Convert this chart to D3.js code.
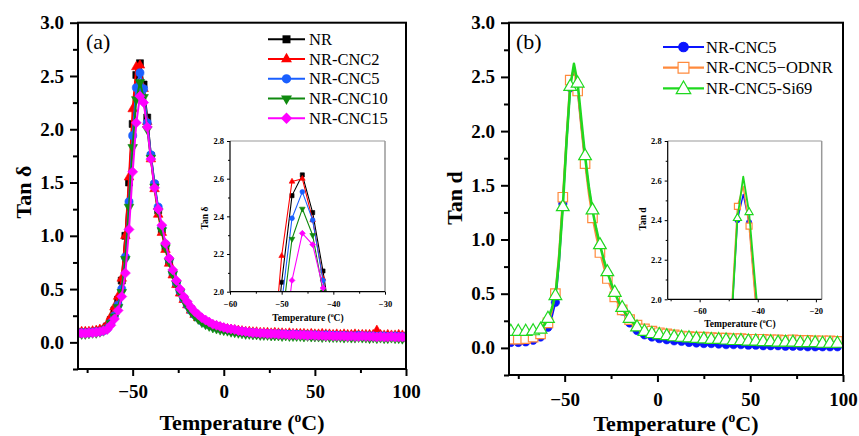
<!DOCTYPE html>
<html><head><meta charset="utf-8">
<script src="https://cdn.jsdelivr.net/npm/d3@7"></script>
<style>
body{margin:0;background:#fff}
svg{display:block}
text{font-family:"Liberation Serif","Times New Roman",serif}
</style>
</head><body>
<svg id="c" width="859" height="436"></svg>
<script>
// ---------- Panel (a) data ----------
const tempA = [-80,-78,-76,-74,-72,-70,-68,-66,-64,-62,-60,-58,-56,-54,-52,-50,-48,-46,-44,-42,-40,-38,-36,-34,-32,-30,-28,-26,-24,-22,-20,-18,-16,-14,-12,-10,-8,-6,-4,-2,0,2,4,6,8,10,12,14,16,18,20,22,24,26,28,30,32,34,36,38,40,42,44,46,48,50,52,54,56,58,60,62,64,66,68,70,72,74,76,78,80,82,84,86,88,90,92,94,96,98,100];
const nrA = [0.09,0.09,0.09,0.095,0.10,0.10,0.11,0.12,0.15,0.21,0.30,0.40,0.58,1.00,1.50,2.05,2.51,2.62,2.42,2.11,1.75,1.48,1.24,1.06,0.90,0.76,0.65,0.55,0.47,0.41,0.36,0.31,0.27,0.24,0.21,0.19,0.17,0.16,0.15,0.14,0.13,0.12,0.115,0.11,0.105,0.10,0.095,0.09,0.09,0.085,0.085,
 0.08,0.08,0.08,0.08,0.075,0.08,0.075,0.075,0.075,0.07,
 0.07,0.07,0.07,0.065,0.07,0.07,0.065,0.065,0.07,0.065,
 0.065,0.06,0.065,0.06,0.06,0.065,0.06,0.06,0.06,0.06,
 0.06,0.055,0.06,0.055,0.055,0.06,0.055,0.055,0.05,0.055];
const cnc2A = [0.10,0.10,0.10,0.10,0.105,0.11,0.12,0.13,0.17,0.24,0.33,0.43,0.60,1.00,1.55,2.19,2.585,2.60,2.38,2.07,1.72,1.44,1.20,1.03,0.87,0.74,0.63,0.54,0.46,0.40,0.35,0.30,0.26,0.23,0.21,0.19,0.17,0.16,0.15,0.14,0.13,
 0.125,0.12,0.115,0.11,0.105,0.10,0.10,0.095,0.095,0.09,
 0.09,0.09,0.085,0.09,0.085,0.085,0.08,0.085,0.08,0.08,
 0.08,0.08,0.075,0.08,0.075,0.075,0.08,0.075,0.075,0.07,
 0.075,0.07,0.075,0.07,0.07,0.075,0.07,0.07,0.07,0.07,
 0.07,0.11,0.07,0.065,0.07,0.065,0.065,0.07,0.065,0.065];
const cnc5A = [0.09,0.09,0.09,0.09,0.095,0.10,0.10,0.11,0.13,0.18,0.25,0.35,0.50,0.80,1.32,1.94,2.39,2.53,2.38,2.06,1.76,1.49,1.27,1.08,0.92,0.78,0.66,0.56,0.48,0.41,0.35,0.30,0.26,0.23,0.20,0.18,0.165,0.15,0.14,0.13,0.125,
 0.12,0.11,0.105,0.10,0.10,0.095,0.09,0.09,0.085,0.085,
 0.08,0.08,0.08,0.075,0.08,0.075,0.075,0.075,0.07,0.075,
 0.07,0.07,0.07,0.065,0.07,0.065,0.065,0.07,0.065,0.065,
 0.065,0.06,0.065,0.06,0.06,0.06,0.065,0.06,0.06,0.06,
 0.06,0.055,0.06,0.06,0.055,0.055,0.06,0.055,0.055,0.05];
const cnc10A = [0.08,0.08,0.08,0.085,0.09,0.09,0.10,0.11,0.13,0.18,0.24,0.33,0.47,0.78,1.27,1.83,2.28,2.44,2.30,2.00,1.73,1.46,1.23,1.05,0.89,0.76,0.64,0.55,0.47,0.40,0.34,0.29,0.25,0.22,0.19,0.17,0.155,0.14,0.13,0.12,0.115,
 0.11,0.10,0.095,0.09,0.085,0.08,0.08,0.075,0.075,0.07,
 0.07,0.07,0.065,0.065,0.065,0.06,0.065,0.06,0.06,0.06,
 0.06,0.055,0.06,0.055,0.055,0.055,0.05,0.055,0.05,0.05,
 0.05,0.05,0.045,0.05,0.045,0.045,0.05,0.045,0.045,0.04,
 0.045,0.04,0.045,0.04,0.04,0.045,0.04,0.04,0.035,0.04];
const cnc15A = [0.085,0.085,0.085,0.09,0.09,0.095,0.10,0.11,0.12,0.16,0.22,0.30,0.43,0.65,1.06,1.60,2.06,2.31,2.25,2.02,1.72,1.45,1.25,1.10,0.93,0.79,0.68,0.58,0.50,0.43,0.38,0.33,0.29,0.26,0.23,0.21,0.19,0.17,0.16,0.15,0.14,
 0.13,0.125,0.12,0.11,0.105,0.10,0.095,0.09,0.09,0.085,
 0.085,0.08,0.08,0.08,0.075,0.075,0.075,0.07,0.075,0.07,
 0.07,0.07,0.065,0.07,0.065,0.065,0.065,0.06,0.065,0.06,
 0.06,0.06,0.06,0.055,0.06,0.055,0.055,0.06,0.055,0.055,
 0.055,0.05,0.055,0.05,0.05,0.055,0.05,0.05,0.05,0.045];
const namesA = ["NR","NR-CNC2","NR-CNC5","NR-CNC10","NR-CNC15"];

// ---------- Panel (b) data ----------
const tempB = [-79,-77,-75,-73,-71,-69,-67,-65,-63,-61,-59,-57,-55,-53,-51,-49,-47,-45,-43,-41,-39,-37,-35,-33,-31,-29,-27,-25,-23,-21,-19,-17,-15,-13,-11,-9,-7,-5,-3,-1,1,3,5,7,9,11,13,15,17,19,21,23,25,27,29,31,33,35,37,39,41,43,45,47,49,51,53,55,57,59,61,63,65,67,69,71,73,75,77,79,81,83,85,87,89,91,93,95,97,99];
const cnc5B = [0.05,0.05,0.05,0.05,0.055,0.06,0.07,0.08,0.10,0.14,0.19,0.28,0.42,0.80,1.33,1.90,2.40,2.53,2.39,2.05,1.74,1.47,1.26,1.08,0.94,0.81,0.69,0.58,0.49,0.41,0.34,0.28,0.23,0.19,0.16,0.14,0.12,0.11,0.10,0.09,0.085,
 0.08,0.075,0.07,0.065,0.06,0.06,0.055,0.05,0.05,0.045,
 0.045,0.04,0.04,0.04,0.035,0.035,0.035,0.03,0.03,0.03,
 0.03,0.03,0.025,0.025,0.025,0.025,0.02,0.02,0.02,0.02,
 0.02,0.02,0.02,0.015,0.015,0.015,0.015,0.015,0.015,0.01,
 0.01,0.01,-0.01,0.01,0.01,0.01,0.01,0.01,0.01];
const odnrB = [0.08,0.08,0.08,0.08,0.085,0.09,0.10,0.11,0.13,0.17,0.23,0.33,0.50,0.88,1.39,1.95,2.47,2.57,2.37,2.02,1.70,1.42,1.20,1.03,0.88,0.75,0.64,0.55,0.47,0.40,0.35,0.30,0.26,0.23,0.21,0.19,0.175,0.165,0.155,0.15,0.14,
 0.135,0.13,0.125,0.12,0.115,0.11,0.11,0.105,0.105,0.10,
 0.10,0.10,0.095,0.095,0.095,0.09,0.09,0.09,0.09,0.085,
 0.085,0.085,0.085,0.08,0.08,0.08,0.08,0.08,0.075,0.075,
 0.075,0.075,0.075,0.07,0.07,0.075,0.07,0.07,0.07,0.07,
 0.07,0.065,0.07,0.065,0.065,0.065,0.065,0.06,0.065];
const si69B = [0.15,0.15,0.15,0.15,0.15,0.15,0.155,0.16,0.17,0.21,0.27,0.36,0.48,0.82,1.30,1.90,2.41,2.62,2.44,2.10,1.77,1.49,1.27,1.10,0.95,0.82,0.70,0.60,0.51,0.43,0.37,0.31,0.27,0.23,0.19,0.17,0.15,0.14,0.13,0.125,0.12,
 0.115,0.11,0.105,0.10,0.10,0.095,0.09,0.09,0.085,0.085,
 0.08,0.08,0.08,0.075,0.075,0.075,0.07,0.07,0.07,0.065,
 0.065,0.065,0.06,0.06,0.06,0.06,0.055,0.055,0.055,0.055,
 0.055,0.05,0.05,0.05,0.05,0.05,0.045,0.045,0.045,0.045,
 0.045,0.045,0.04,0.04,0.04,0.04,0.04,0.04,0.04];
const namesB = ["NR-CNC5","NR-CNC5\u2212ODNR","NR-CNC5-Si69"];

// tick values
const xMajor = [-50,0,50,100], xMinor = [-75,-25,25,75];
const yMajor = [0,0.5,1,1.5,2,2.5,3], yMinor = [-0.25,0.25,0.75,1.25,1.75,2.25,2.75];
const inYMajor = [2.0,2.2,2.4,2.6,2.8], inYMinor = [2.1,2.3,2.5,2.7];
const inXMajorA = [-60,-50,-40,-30], inXMinorA = [-55,-45,-35];
const inXMajorB = [-60,-40,-20], inXMinorB = [-70,-50,-30];

const svg = d3.select("#c");
const fmtX = d3.format("d"), fmtY = d3.format(".1f");

function symPath(shape, size){
  const t = {square:d3.symbolSquare, triangle:d3.symbolTriangle, triangleDown:d3.symbolTriangle,
             circle:d3.symbolCircle, diamond:d3.symbolSquare}[shape];
  return d3.symbol().type(t).size(size)();
}
function symRot(shape){ return shape==="triangleDown" ? 180 : (shape==="diamond" ? 45 : 0); }

function drawMainAxes(g, x, y, L, R, T, B, xPad){
  g.append("rect").attr("x",L).attr("y",T).attr("width",R-L).attr("height",B-T)
    .attr("fill","none").attr("stroke","#000").attr("stroke-width",2);
  g.append("g").attr("transform",`translate(0,${B})`)
    .call(d3.axisBottom(x).tickValues(xMajor).tickFormat(fmtX).tickSize(7).tickPadding(xPad).tickSizeOuter(0));
  g.append("g").attr("transform",`translate(0,${B})`)
    .call(d3.axisBottom(x).tickValues(xMinor).tickFormat("").tickSize(4).tickSizeOuter(0));
  g.append("g").attr("transform",`translate(${L},0)`)
    .call(d3.axisLeft(y).tickValues(yMajor).tickFormat(fmtY).tickSize(8).tickPadding(6).tickSizeOuter(0));
  g.append("g").attr("transform",`translate(${L},0)`)
    .call(d3.axisLeft(y).tickValues(yMinor).tickFormat("").tickSize(5).tickSizeOuter(0));
  g.selectAll(".domain").remove();
  g.selectAll(".tick line").attr("stroke","#000").attr("stroke-width",2);
  g.selectAll(".tick text").attr("font-family","Liberation Serif, serif").attr("font-size",19)
    .attr("font-weight","bold").attr("fill","#000");
}

function drawSeries(g, x, y, temps, vals, color, shape, size, lw, open, every, offset){
  const pts = temps.map((t,i)=>[t, vals[i]]);
  g.append("path").datum(pts)
    .attr("d", d3.line().x(d=>x(d[0])).y(d=>y(d[1])))
    .attr("fill","none").attr("stroke",color).attr("stroke-width",lw).attr("stroke-linejoin","round");
  const mp = pts.filter((d,i)=> (i - offset) % every === 0);
  g.selectAll(null).data(mp).enter().append("path")
    .attr("d", symPath(shape,size))
    .attr("transform", d=>`translate(${x(d[0])},${y(d[1])}) rotate(${symRot(shape)})`)
    .attr("fill", open ? "#fff" : color)
    .attr("stroke", color).attr("stroke-width", open ? 1.2 : 0.6);
}

function drawInsetAxes(g, x, y, L, R, T, B, xMaj, xMin){
  g.append("line").attr("x1",L).attr("x2",R).attr("y1",T).attr("y2",T).attr("stroke","#999").attr("stroke-width",1.2);
  g.append("line").attr("x1",R).attr("x2",R).attr("y1",T).attr("y2",B).attr("stroke","#999").attr("stroke-width",1.5);
  g.append("g").attr("transform",`translate(0,${B})`)
    .call(d3.axisBottom(x).tickValues(xMaj).tickFormat(fmtX).tickSize(3).tickPadding(6).tickSizeOuter(0));
  g.append("g").attr("transform",`translate(0,${B})`)
    .call(d3.axisBottom(x).tickValues(xMin).tickFormat("").tickSize(2).tickSizeOuter(0));
  g.append("g").attr("transform",`translate(${L},0)`)
    .call(d3.axisLeft(y).tickValues(inYMajor).tickFormat(fmtY).tickSize(3).tickPadding(3).tickSizeOuter(0));
  g.append("g").attr("transform",`translate(${L},0)`)
    .call(d3.axisLeft(y).tickValues(inYMinor).tickFormat("").tickSize(2).tickSizeOuter(0));
  g.selectAll(".domain").remove();
  g.append("line").attr("x1",L).attr("x2",R).attr("y1",B).attr("y2",B).attr("stroke","#000").attr("stroke-width",1.2);
  g.append("line").attr("x1",L).attr("x2",L).attr("y1",T).attr("y2",B).attr("stroke","#000").attr("stroke-width",1.2);
  g.selectAll(".tick line").attr("stroke","#000").attr("stroke-width",1);
  g.selectAll(".tick text").attr("font-family","Liberation Serif, serif").attr("font-size",8.5)
    .attr("font-weight","bold").attr("fill","#000");
}

function tempTitle(g, cx, y, fs){
  const t = g.append("text").attr("x",cx).attr("y",y).attr("text-anchor","middle")
    .attr("font-size",fs).attr("font-weight","bold").attr("fill","#000");
  t.append("tspan").text("Temperature (");
  t.append("tspan").text("o").attr("font-size",fs*0.62).attr("dy",-fs*0.38);
  t.append("tspan").text("C)").attr("dy",fs*0.38);
}

// ================= Panel (a) =================
{
  const L=78, R=406, T=22.7, B=369;
  const x = d3.scaleLinear([-80,100],[L,R]);
  const y = d3.scaleLinear([-0.25,3],[B,T]);
  const g = svg.append("g");
  svg.append("clipPath").attr("id","clipA").append("rect").attr("x",L).attr("y",T).attr("width",R-L).attr("height",B-T);
  const series = [
    {name:namesA[0], v:nrA, c:"#000000", s:"square", sz:49},
    {name:namesA[1], v:cnc2A, c:"#ff0000", s:"triangle", sz:40},
    {name:namesA[2], v:cnc5A, c:"#1a5fff", s:"circle", sz:52},
    {name:namesA[3], v:cnc10A, c:"#0f8a0f", s:"triangleDown", sz:40},
    {name:namesA[4], v:cnc15A, c:"#ff00ff", s:"diamond", sz:50}
  ];
  const pg = g.append("g").attr("clip-path","url(#clipA)");
  series.forEach(s=> drawSeries(pg, x, y, tempA, s.v, s.c, s.s, s.sz, 2, false, 1, 0));
  drawMainAxes(g, x, y, L, R, T, B, 9);
  const iL=230, iR=385, iT=141, iB=291.7;
  const ix = d3.scaleLinear([-60,-30],[iL,iR]);
  const iy = d3.scaleLinear([2.0,2.8],[iB,iT]);
  svg.append("clipPath").attr("id","clipAi").append("rect").attr("x",iL).attr("y",iT).attr("width",iR-iL).attr("height",iB-iT);
  const ig = g.append("g");
  const ipg = ig.append("g").attr("clip-path","url(#clipAi)");
  series.forEach(s=> drawSeries(ipg, ix, iy, tempA, s.v, s.c, s.s, s.sz*0.35, 1.1, false, 1, 0));
  drawInsetAxes(ig, ix, iy, iL, iR, iT, iB, inXMajorA, inXMinorA);
  tempTitle(ig, 308, 321, 9.5);
  ig.append("text").attr("transform","translate(208,218) rotate(-90)").attr("text-anchor","middle")
    .attr("font-size",9.5).attr("font-weight","bold").text("Tan \u03b4");
  series.forEach((s,i)=>{
    const cy = 39.3 + i*19.75;
    g.append("line").attr("x1",268).attr("x2",305).attr("y1",cy).attr("y2",cy).attr("stroke",s.c).attr("stroke-width",2);
    g.append("path").attr("d",symPath(s.s, s.sz*1.3)).attr("transform",`translate(286.5,${cy}) rotate(${symRot(s.s)})`).attr("fill",s.c);
    g.append("text").attr("x",309).attr("y",cy+5.5).attr("font-size",16.5).attr("fill","#000").text(s.name);
  });
  g.append("text").attr("x",86).attr("y",49).attr("font-size",22).text("(a)");
  g.append("text").attr("transform","translate(31,192) rotate(-90)").attr("text-anchor","middle")
    .attr("font-size",22).attr("font-weight","bold").text("Tan \u03b4");
  tempTitle(g, 242, 430, 22);
}

// ================= Panel (b) =================
{
  const L=509, R=843, T=22.7, B=375;
  const x = d3.scaleLinear([-80,100],[L,R]);
  const y = d3.scaleLinear([-0.25,3],[B,T]);
  const g = svg.append("g");
  svg.append("clipPath").attr("id","clipB").append("rect").attr("x",L).attr("y",T).attr("width",R-L).attr("height",B-T);
  const series = [
    {name:namesB[0], v:cnc5B, c:"#0a14ff", s:"circle", sz:55, open:false, lw:2},
    {name:namesB[1], v:odnrB, c:"#ff8a3c", s:"square", sz:90, open:true, lw:2},
    {name:namesB[2], v:si69B, c:"#1fd81f", s:"triangle", sz:70, open:true, lw:2.6}
  ];
  const pg = g.append("g").attr("clip-path","url(#clipB)");
  series.forEach(s=> drawSeries(pg, x, y, tempB, s.v, s.c, s.s, s.sz, s.lw, s.open, 2, 0));
  drawMainAxes(g, x, y, L, R, T, B, 11);
  const iL=667.7, iR=821.7, iT=141, iB=299.3;
  const ix = d3.scaleLinear([-71,-18],[iL,iR]);
  const iy = d3.scaleLinear([2.0,2.8],[iB,iT]);
  svg.append("clipPath").attr("id","clipBi").append("rect").attr("x",iL).attr("y",iT).attr("width",iR-iL).attr("height",iB-iT);
  const ig = g.append("g");
  const ipg = ig.append("g").attr("clip-path","url(#clipBi)");
  series.forEach(s=> drawSeries(ipg, ix, iy, tempB, s.v, s.c, s.s, s.sz*0.4, s.lw*0.7, s.open, 2, 0));
  drawInsetAxes(ig, ix, iy, iL, iR, iT, iB, inXMajorB, inXMinorB);
  tempTitle(ig, 740, 327, 9.5);
  ig.append("text").attr("transform","translate(645.5,219) rotate(-90)").attr("text-anchor","middle")
    .attr("font-size",9.5).attr("font-weight","bold").text("Tan d");
  series.forEach((s,i)=>{
    const cy = 47 + i*20.7;
    g.append("line").attr("x1",663).attr("x2",704).attr("y1",cy).attr("y2",cy).attr("stroke",s.c).attr("stroke-width",2.2);
    g.append("path").attr("d",symPath(s.s, s.sz*1.3)).attr("transform",`translate(683.5,${cy+(s.s==="triangle"?1:0)})`)
      .attr("fill", s.open ? "#fff" : s.c).attr("stroke",s.c).attr("stroke-width",1.2);
    g.append("text").attr("x",706).attr("y",cy+5.5).attr("font-size",16.5).attr("fill","#000").text(s.name);
  });
  g.append("text").attr("x",516).attr("y",49).attr("font-size",22).text("(b)");
  g.append("text").attr("transform","translate(462,198) rotate(-90)").attr("text-anchor","middle")
    .attr("font-size",22).attr("font-weight","bold").text("Tan d");
  tempTitle(g, 676, 430.5, 22);
}
</script>
</body></html>
